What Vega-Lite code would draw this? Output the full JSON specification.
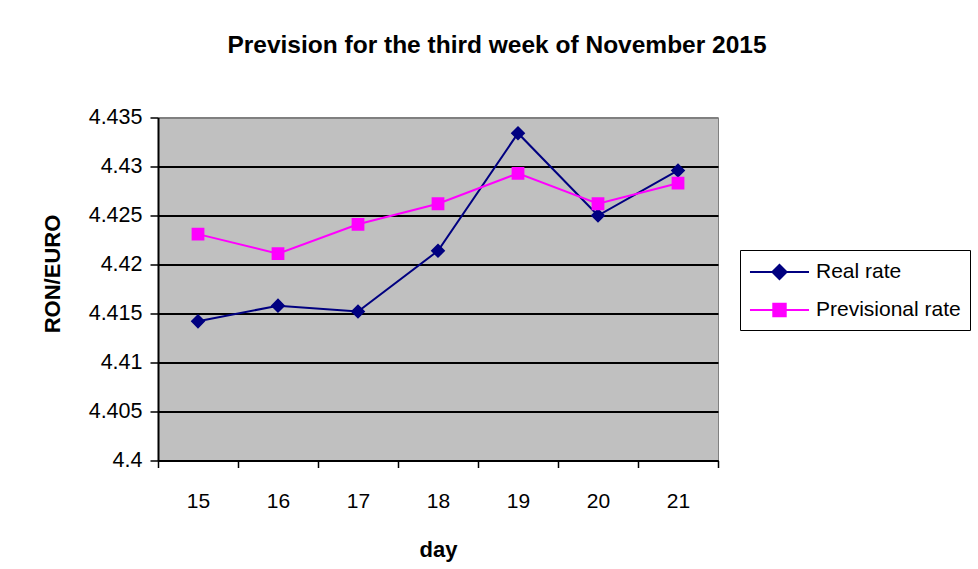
{
  "$schema": "https://vega.github.io/schema/vega-lite/v6.json",
  "width": 560,
  "height": 343,
  "autosize": {"type": "none"},
  "padding": {"left": 158, "top": 117.5, "right": 260, "bottom": 108.5},
  "background": "white",
  "title": {
    "text": "Prevision for the third week of November 2015",
    "font": "Liberation Sans",
    "fontSize": 24.5,
    "fontWeight": "bold",
    "color": "black",
    "anchor": "middle",
    "frame": "group",
    "dx": 59,
    "offset": 48
  },
  "data": {
    "values": [
      {"day": "15", "series": "Real rate", "rate": 4.4142},
      {"day": "16", "series": "Real rate", "rate": 4.4158},
      {"day": "17", "series": "Real rate", "rate": 4.4152},
      {"day": "18", "series": "Real rate", "rate": 4.4214},
      {"day": "19", "series": "Real rate", "rate": 4.4334},
      {"day": "20", "series": "Real rate", "rate": 4.4250},
      {"day": "21", "series": "Real rate", "rate": 4.4296},
      {"day": "15", "series": "Previsional rate", "rate": 4.4231},
      {"day": "16", "series": "Previsional rate", "rate": 4.4211},
      {"day": "17", "series": "Previsional rate", "rate": 4.4241},
      {"day": "18", "series": "Previsional rate", "rate": 4.4262},
      {"day": "19", "series": "Previsional rate", "rate": 4.4293},
      {"day": "20", "series": "Previsional rate", "rate": 4.4262},
      {"day": "21", "series": "Previsional rate", "rate": 4.4283}
    ]
  },
  "encoding": {
    "x": {
      "field": "day",
      "type": "ordinal",
      "sort": ["15", "16", "17", "18", "19", "20", "21"],
      "scale": {"type": "band", "paddingInner": 0, "paddingOuter": 0},
      "axis": {
        "title": "day",
        "labelAngle": 0,
        "tickBand": "extent",
        "labelFont": "Liberation Sans",
        "labelFontSize": 21,
        "labelColor": "black",
        "labelPadding": 23,
        "tickColor": "black",
        "tickWidth": 1.5,
        "tickSize": 7,
        "domainColor": "black",
        "domainWidth": 2,
        "grid": false,
        "titleFont": "Liberation Sans",
        "titleFontSize": 22,
        "titleFontWeight": "bold",
        "titleColor": "black",
        "titlePadding": 28
      }
    },
    "y": {
      "field": "rate",
      "type": "quantitative",
      "scale": {"domain": [4.4, 4.435], "nice": false, "zero": false},
      "axis": {
        "title": "RON/EURO",
        "titleY": 156,
        "values": [4.4, 4.405, 4.41, 4.415, 4.42, 4.425, 4.43, 4.435],
        "format": ".6~g",
        "labelFont": "Liberation Sans",
        "labelFontSize": 21.5,
        "labelColor": "black",
        "labelPadding": 8,
        "tickColor": "black",
        "tickWidth": 1.5,
        "tickSize": 8,
        "domainColor": "black",
        "domainWidth": 2,
        "grid": true,
        "gridColor": {"condition": {"test": "datum.value >= 4.435", "value": "#808080"}, "value": "black"},
        "gridWidth": 2,
        "titleFont": "Liberation Sans",
        "titleFontSize": 22,
        "titleFontWeight": "bold",
        "titleColor": "black",
        "titlePadding": 24
      }
    },
    "color": {
      "field": "series",
      "type": "nominal",
      "scale": {"domain": ["Real rate", "Previsional rate"], "range": ["#000080", "#FF00FF"]},
      "legend": {"title": null}
    }
  },
  "layer": [
    {"mark": {"type": "line", "strokeWidth": 2}},
    {
      "mark": {"type": "point", "filled": true, "opacity": 1},
      "encoding": {
        "shape": {
          "field": "series",
          "type": "nominal",
          "scale": {"domain": ["Real rate", "Previsional rate"], "range": ["M-2.46,0H2.46M-0.59,0L0,-0.59L0.59,0L0,0.59Z", "M-2.46,0H2.46M-0.517,-0.517H0.517V0.517H-0.517Z"]},
          "legend": {"title": null}
        },
        "stroke": {
          "field": "series",
          "type": "nominal",
          "scale": {"domain": ["Real rate", "Previsional rate"], "range": ["#000080", "#FF00FF"]},
          "legend": {"title": null}
        },
        "size": {"value": 611},
        "strokeWidth": {"value": 0}
      }
    }
  ],
  "config": {
    "view": {"fill": "#C0C0C0", "stroke": "#808080", "strokeWidth": 1},
    "legend": {
      "orient": "none",
      "legendX": 582,
      "legendY": 132.5,
      "strokeColor": "black",
      "padding": 9,
      "symbolSize": 576,
      "symbolOffset": 17.5,
      "symbolStrokeWidth": 2,
      "labelOffset": 23.5,
      "labelFont": "Liberation Sans",
      "labelFontSize": 21,
      "labelColor": "black",
      "rowPadding": 13
    }
  }
}
